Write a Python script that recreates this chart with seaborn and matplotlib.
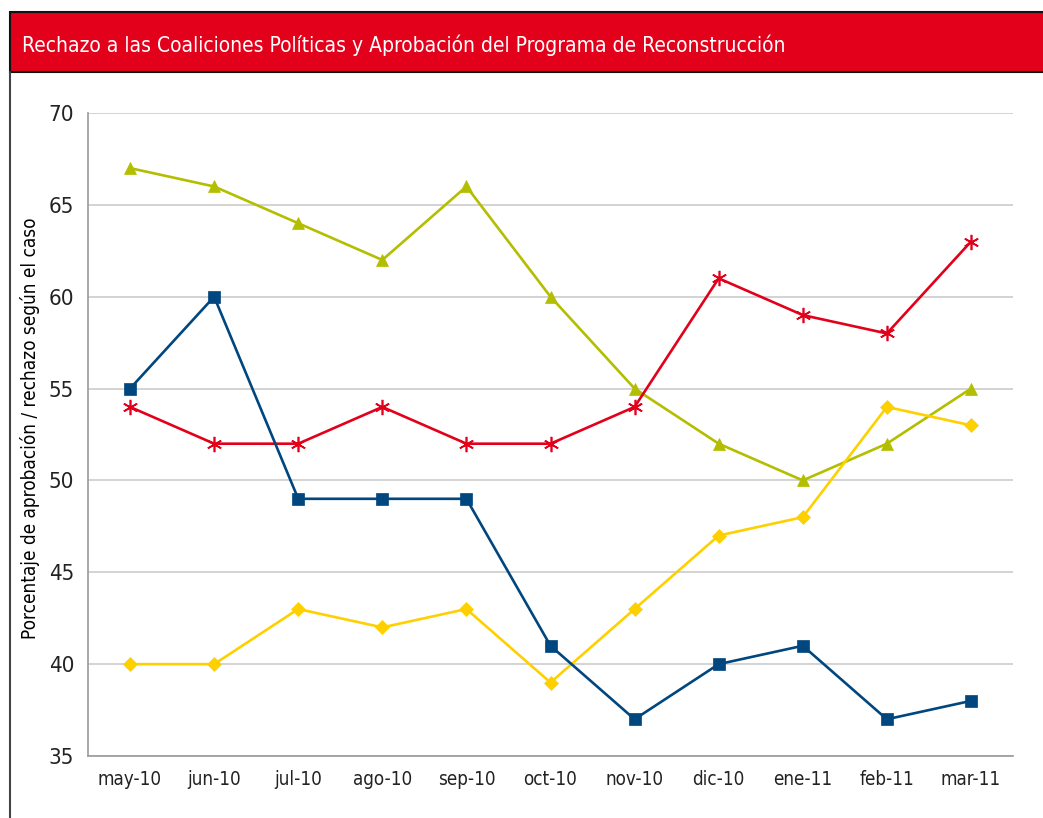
import pandas as pd
import seaborn as sns
import matplotlib.pyplot as plt
from matplotlib.patches import Rectangle
from matplotlib.lines import Line2D

# monthly series
months = ['may-10', 'jun-10', 'jul-10', 'ago-10', 'sep-10', 'oct-10',
          'nov-10', 'dic-10', 'ene-11', 'feb-11', 'mar-11']
blue_vals = [55, 60, 49, 49, 49, 41, 37, 40, 41, 37, 38]
green_vals = [67, 66, 64, 62, 66, 60, 55, 52, 50, 52, 55]
red_vals = [54, 52, 52, 54, 52, 52, 54, 61, 59, 58, 63]
yellow_vals = [40, 40, 43, 42, 43, 39, 43, 47, 48, 54, 53]

title = 'Rechazo a las Coaliciones Políticas y Aprobación del Programa de Reconstrucción'
ylabel = 'Porcentaje de aprobación / rechazo según el caso'

sns.set_theme(style="whitegrid")
plt.rcParams['font.family'] = ['DejaVu Sans']
plt.rcParams['font.stretch'] = 'condensed'

fig = plt.figure(figsize=(10.43, 8.18), dpi=100)
W, H = 1043, 818
ax = fig.add_axes([88 / W, 1 - 756 / H, (1013 - 88) / W, (756 - 113) / H])

series = [
    (green_vals, '#B4BE00', '^', 9),
    (red_vals, '#E3001B', (6, 2, 0), 11),
    (yellow_vals, '#FFD000', 'D', 7),
    (blue_vals, '#00467F', 's', 8),
]
x = list(range(len(months)))
for vals, col, mk, ms in series:
    df = pd.DataFrame({'x': x, 'y': vals})
    sns.lineplot(data=df, x='x', y='y', ax=ax, color=col, marker=mk,
                 markersize=ms, linewidth=1.9, markeredgecolor=col,
                 markeredgewidth=1.2 if mk == (6, 2, 0) else 0.5)

ax.set_xlim(-0.5, len(months) - 0.5)
ax.set_ylim(35, 70)
ax.set_yticks(range(35, 71, 5))
ax.set_xticks(x)
ax.set_xticklabels(months)
ax.set_xlabel('')
ax.set_ylabel(ylabel, fontsize=13.6, color='black')
ax.yaxis.set_label_coords(-0.052, 0.51)
ax.tick_params(axis='y', labelsize=16, colors='#222222', pad=10, length=0)
ax.tick_params(axis='x', labelsize=13.5, colors='#222222', pad=10, length=0)
ax.grid(axis='x', visible=False)
ax.grid(axis='y', color='#CCCCCC', linewidth=1.2)
for side in ['top', 'right']:
    ax.spines[side].set_visible(False)
for side in ['left', 'bottom']:
    ax.spines[side].set_color('#999999')
    ax.spines[side].set_linewidth(1.2)

# red title banner and left frame line
fig.patches.append(Rectangle((10 / W, 1 - 72 / H), 1.0, 60 / H,
                             transform=fig.transFigure, facecolor='#E2001A',
                             edgecolor='#111111', linewidth=1.5))
fig.lines.append(Line2D([10 / W, 10 / W], [0, 1 - 72 / H], transform=fig.transFigure,
                        color='#444444', linewidth=1.5))
fig.text(22 / W, 1 - 45 / H, title, color='white', fontsize=15, va='center', ha='left')

fig.savefig('out.png', dpi=100)
